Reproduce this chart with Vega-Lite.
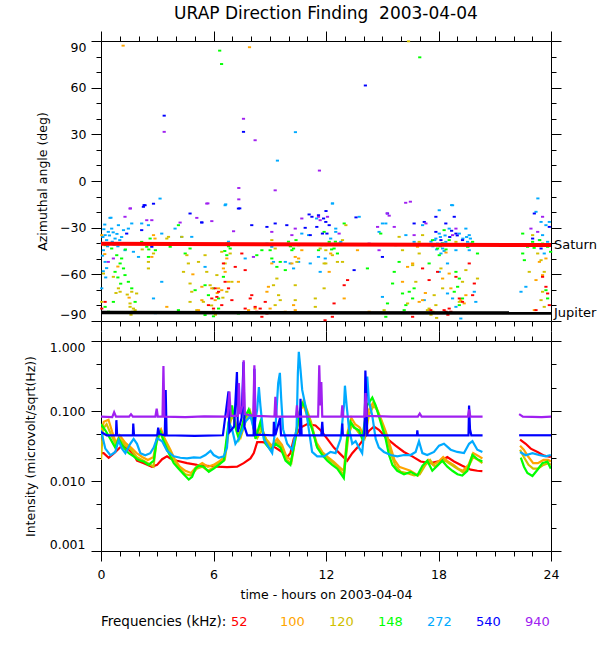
{
  "$schema": "https://vega.github.io/schema/vega-lite/v6.json",
  "background": "white",
  "padding": {"left": 23, "top": 4, "right": 0, "bottom": 5},
  "config": {
    "font": "DejaVu Sans",
    "view": {"stroke": "black", "strokeWidth": 1},
    "axis": {"grid": false, "domain": false, "tickColor": "black", "tickWidth": 1, "labelColor": "black", "titleColor": "black", "labelFontSize": 12.5, "titleFontSize": 12.5, "titleFontWeight": "normal", "labelFont": "DejaVu Sans", "titleFont": "DejaVu Sans"},
    "title": {"font": "DejaVu Sans", "fontSize": 17, "fontWeight": "normal", "color": "black"}
  },
  "datasets": {
    "sat": [{"t": 0, "a": -40.4}, {"t": 24, "a": -41.2}],
    "jup": [{"t": 0, "a": -84.5}, {"t": 24, "a": -84.9}],
    "lab": [{"t": 24, "a": -41.2, "p": "Saturn"}, {"t": 24, "a": -84.9, "p": "Jupiter"}],
    "az": [
      {"f":"272","t":10.37,"a":31.4},{"f":"272","t":9.41,"a":13.1},{"f":"272","t":6.65,"a":-15},{"f":"272","t":23.3,"a":-11.2},{"f":"272","t":18.7,"a":-15.5},{"f":"272","t":0.53,"a":-23.6},{"f":"272","t":12.35,"a":-14.4},
      {"f":"272","t":0.22,"a":-34.8},{"f":"272","t":0.39,"a":-32.7},{"f":"272","t":0.57,"a":-30.6},{"f":"272","t":0.3,"a":-38},{"f":"272","t":0.75,"a":-37},{"f":"272","t":0.93,"a":-28.4},{"f":"272","t":1.2,"a":-31.6},{"f":"272","t":1.46,"a":-30.6},{"f":"272","t":1.64,"a":-27.3},{"f":"272","t":0.48,"a":-23.7},{"f":"272","t":2.17,"a":-27.3},{"f":"272","t":2.53,"a":-28.4},{"f":"272","t":0.13,"a":-44.5},{"f":"272","t":0.22,"a":-52},{"f":"272","t":0.3,"a":-56},{"f":"272","t":0.04,"a":-69},{"f":"272","t":1.28,"a":-44.5},{"f":"272","t":1.73,"a":-45.5},{"f":"272","t":2,"a":-48.8},{"f":"272","t":3.24,"a":-64.8},{"f":"272","t":2.8,"a":-75.5},{"f":"272","t":2.9,"a":-85},{"f":"272","t":3.15,"a":-11.3},{"f":"272","t":3.24,"a":-33.8},{"f":"272","t":3.95,"a":-30.6},{"f":"272","t":4.3,"a":-35.9},{"f":"272","t":4.84,"a":-35.9},{"f":"272","t":5.55,"a":-55.2},{"f":"272","t":6.62,"a":-15.6},{"f":"272","t":6.8,"a":-39},{"f":"272","t":7.69,"a":-49.8},{"f":"272","t":8.85,"a":-40.2},{"f":"272","t":9.11,"a":-42.3},{"f":"272","t":9.2,"a":-52},{"f":"272","t":9.83,"a":-52},{"f":"272","t":10.09,"a":-53},{"f":"272","t":10.27,"a":-56.2},{"f":"272","t":10.54,"a":-52},{"f":"272","t":10.71,"a":-33.8},{"f":"272","t":11.07,"a":-34.8},{"f":"272","t":11.16,"a":-53},{"f":"272","t":11.6,"a":-48.8},{"f":"272","t":11.96,"a":-49.8},{"f":"272","t":11.5,"a":-24.1},{"f":"272","t":11.69,"a":-58.4},
      {"f":"272","t":0.05,"a":-40},{"f":"272","t":0.1,"a":-36},{"f":"272","t":0.15,"a":-31},{"f":"272","t":0.35,"a":-42},{"f":"272","t":0.45,"a":-35},{"f":"272","t":0.6,"a":-39},{"f":"272","t":0.65,"a":-33},{"f":"272","t":0.7,"a":-41},{"f":"272","t":0.85,"a":-34},{"f":"272","t":1.0,"a":-38},{"f":"272","t":0.2,"a":-28},{"f":"272","t":0.08,"a":-48},{"f":"272","t":0.12,"a":-58},{"f":"272","t":0.25,"a":-62},{"f":"272","t":1.1,"a":-36},{"f":"272","t":0.9,"a":-42},
      {"f":"272","t":12.34,"a":-14.5},{"f":"272","t":12.52,"a":-30.6},{"f":"272","t":12.25,"a":-37},{"f":"272","t":12.79,"a":-39.1},{"f":"272","t":12.52,"a":-32.7},{"f":"272","t":15.01,"a":-27.3},{"f":"272","t":14.83,"a":-32.7},{"f":"272","t":16.26,"a":-34.8},{"f":"272","t":16.7,"a":-39.1},{"f":"272","t":17.15,"a":-28.4},{"f":"272","t":17.5,"a":-41.3},{"f":"272","t":17.86,"a":-37},{"f":"272","t":18.04,"a":-33.8},{"f":"272","t":18.04,"a":-18.8},{"f":"272","t":18.22,"a":-43.4},{"f":"272","t":18.39,"a":-39.1},{"f":"272","t":18.57,"a":-30.6},{"f":"272","t":18.75,"a":-15.6},{"f":"272","t":18.93,"a":-44.5},{"f":"272","t":19.11,"a":-33.8},{"f":"272","t":19.46,"a":-30.6},{"f":"272","t":19.64,"a":-34.8},{"f":"272","t":19.55,"a":-39.1},{"f":"272","t":19.73,"a":-40.2},{"f":"272","t":18.48,"a":-72.3},{"f":"272","t":18.75,"a":-75.5},{"f":"272","t":19.99,"a":-77.7},{"f":"272","t":19.91,"a":-71.2},{"f":"272","t":18.93,"a":-80.9},{"f":"272","t":19.19,"a":-88.4},{"f":"272","t":22.4,"a":-71.2},{"f":"272","t":22.66,"a":-68},{"f":"272","t":23.2,"a":-19.8},{"f":"272","t":23.47,"a":-26.3},{"f":"272","t":23.73,"a":-28.4},{"f":"272","t":23.82,"a":-39.1},{"f":"272","t":23.91,"a":-26.3},{"f":"272","t":23.55,"a":-34.8},{"f":"272","t":23.38,"a":-38},{"f":"272","t":23.64,"a":-46.6},{"f":"272","t":15.19,"a":-27.3},{"f":"272","t":13.77,"a":-23},{"f":"272","t":18.48,"a":-53},{"f":"272","t":18.04,"a":-58.4},{"f":"272","t":17.24,"a":-76.6},{"f":"272","t":15.01,"a":-74.5},{"f":"272","t":17.95,"a":-40.2},{"f":"272","t":18.13,"a":-46.6},{"f":"272","t":19.64,"a":-44.5},
      {"f":"272","t":17.7,"a":-42},{"f":"272","t":17.8,"a":-38},{"f":"272","t":17.9,"a":-44},{"f":"272","t":18.0,"a":-41},{"f":"272","t":18.1,"a":-36},{"f":"272","t":18.2,"a":-40},{"f":"272","t":18.3,"a":-45},{"f":"272","t":18.35,"a":-35},{"f":"272","t":17.6,"a":-39},{"f":"272","t":19.2,"a":-41},{"f":"272","t":19.3,"a":-37},{"f":"272","t":19.5,"a":-36},{"f":"272","t":19.6,"a":-42},{"f":"272","t":19.7,"a":-37},
      {"f":"148","t":6.33,"a":83.8},{"f":"148","t":6.43,"a":75.2},{"f":"148","t":17.0,"a":79.5},
      {"f":"148","t":0.22,"a":-41.3},{"f":"148","t":0.57,"a":-43.4},{"f":"148","t":0.84,"a":-47.7},{"f":"148","t":1.1,"a":-49.8},{"f":"148","t":1.02,"a":-53},{"f":"148","t":1.2,"a":-56.2},{"f":"148","t":0.75,"a":-58.4},{"f":"148","t":1.28,"a":-60.5},{"f":"148","t":1.46,"a":-64.8},{"f":"148","t":1.64,"a":-69},{"f":"148","t":0.66,"a":-77.7},{"f":"148","t":0.22,"a":-80.9},{"f":"148","t":1.82,"a":-77.7},{"f":"148","t":2.17,"a":-39.1},{"f":"148","t":2.44,"a":-42.3},{"f":"148","t":2.62,"a":-37},{"f":"148","t":2.9,"a":-44.5},{"f":"148","t":2.53,"a":-48.8},{"f":"148","t":4.13,"a":-28.4},{"f":"148","t":3.69,"a":-42.3},{"f":"148","t":4.49,"a":-46.6},{"f":"148","t":4.75,"a":-43.4},{"f":"148","t":5.02,"a":-70.2},{"f":"148","t":5.55,"a":-67},{"f":"148","t":5.73,"a":-73.4},{"f":"148","t":6,"a":-69},{"f":"148","t":6.27,"a":-82},{"f":"148","t":5.55,"a":-86.2},{"f":"148","t":6.53,"a":-61.6},{"f":"148","t":6.71,"a":-40.2},{"f":"148","t":6.89,"a":-43.4},{"f":"148","t":6.71,"a":-47.7},{"f":"148","t":7.33,"a":-85.2},{"f":"148","t":8.31,"a":-47.7},{"f":"148","t":8.58,"a":-44.5},{"f":"148","t":9.02,"a":-44.5},{"f":"148","t":9.11,"a":-49.8},{"f":"148","t":9.38,"a":-55.2},{"f":"148","t":9.56,"a":-52},{"f":"148","t":10,"a":-39},{"f":"148","t":10.18,"a":-44.5},{"f":"148","t":9.83,"a":-57.3},{"f":"148","t":10.54,"a":-41.3},{"f":"148","t":10.27,"a":-43.4},{"f":"148","t":11.6,"a":-44.5},{"f":"148","t":11.78,"a":-41.3},{"f":"148","t":4.13,"a":-83},{"f":"148","t":6.27,"a":-75.5},{"f":"148","t":6,"a":-87},
      {"f":"148","t":0.9,"a":-62},{"f":"148","t":1.05,"a":-66},{"f":"148","t":0.4,"a":-84},{"f":"148","t":1.3,"a":-44},{"f":"148","t":2.7,"a":-40},{"f":"148","t":2.55,"a":-44},{"f":"148","t":6.8,"a":-42},{"f":"148","t":6.6,"a":-45},{"f":"148","t":10.1,"a":-42},{"f":"148","t":10.4,"a":-38},
      {"f":"148","t":11.99,"a":-41.3},{"f":"148","t":12.17,"a":-39.1},{"f":"148","t":12.43,"a":-43.4},{"f":"148","t":12.7,"a":-40.2},{"f":"148","t":12.97,"a":-27.3},{"f":"148","t":12.61,"a":-46.6},{"f":"148","t":11.9,"a":-32.7},{"f":"148","t":14.92,"a":-33.8},{"f":"148","t":15.9,"a":-52},{"f":"148","t":15.64,"a":-58.4},{"f":"148","t":15.55,"a":-65.9},{"f":"148","t":16.08,"a":-72.3},{"f":"148","t":16.44,"a":-71.2},{"f":"148","t":16.62,"a":-75.5},{"f":"148","t":16.26,"a":-79.8},{"f":"148","t":16.17,"a":-83},{"f":"148","t":16.7,"a":-69},{"f":"148","t":15.28,"a":-78.7},{"f":"148","t":15.19,"a":-87.3},{"f":"148","t":17.68,"a":-38},{"f":"148","t":17.95,"a":-43.4},{"f":"148","t":18.22,"a":-40.2},{"f":"148","t":18.04,"a":-47.7},{"f":"148","t":18.57,"a":-38},{"f":"148","t":18.93,"a":-58.4},{"f":"148","t":19.11,"a":-62.7},{"f":"148","t":19.02,"a":-68},{"f":"148","t":18.84,"a":-71.2},{"f":"148","t":19.28,"a":-75.5},{"f":"148","t":19.11,"a":-79.8},{"f":"148","t":19.55,"a":-42.3},{"f":"148","t":19.82,"a":-39.1},{"f":"148","t":20.08,"a":-46.6},{"f":"148","t":17.5,"a":-53},{"f":"148","t":22.49,"a":-33.8},{"f":"148","t":22.75,"a":-42.3},{"f":"148","t":23.02,"a":-39.1},{"f":"148","t":23.29,"a":-41.3},{"f":"148","t":23.55,"a":-40.2},{"f":"148","t":23.82,"a":-42.3},{"f":"148","t":23.98,"a":-45.5},{"f":"148","t":23.73,"a":-70.2},{"f":"148","t":23.82,"a":-75.5},{"f":"148","t":22.49,"a":-46.6},{"f":"148","t":22.58,"a":-50.9},{"f":"148","t":15.72,"a":-41.3},{"f":"148","t":18.3,"a":-31.6},{"f":"148","t":14.21,"a":-56.2},
      {"f":"148","t":18.1,"a":-42},{"f":"148","t":18.4,"a":-44},{"f":"148","t":12.3,"a":-44},{"f":"148","t":12.5,"a":-39},{"f":"148","t":23.1,"a":-43},{"f":"148","t":23.4,"a":-38},
      {"f":"120","t":16.4,"a":89.8},
      {"f":"120","t":0.04,"a":-77.7},{"f":"120","t":0.13,"a":-59.5},{"f":"120","t":0.66,"a":-61.6},{"f":"120","t":0.93,"a":-69},{"f":"120","t":1.02,"a":-71.2},{"f":"120","t":1.64,"a":-71.2},{"f":"120","t":1.9,"a":-72.3},{"f":"120","t":1.55,"a":-78.7},{"f":"120","t":1.73,"a":-82},{"f":"120","t":1.55,"a":-80.9},{"f":"120","t":1.82,"a":-83},{"f":"120","t":2.71,"a":-41.3},{"f":"120","t":2.53,"a":-52},{"f":"120","t":2.53,"a":-56.2},{"f":"120","t":2.8,"a":-46.6},{"f":"120","t":3.51,"a":-37},{"f":"120","t":4.31,"a":-35.9},{"f":"120","t":4.58,"a":-47.7},{"f":"120","t":4.66,"a":-53},{"f":"120","t":4.75,"a":-65.9},{"f":"120","t":4.84,"a":-71.2},{"f":"120","t":4.75,"a":-77.7},{"f":"120","t":5.2,"a":-52},{"f":"120","t":5.55,"a":-47.7},{"f":"120","t":5.64,"a":-58.4},{"f":"120","t":5.82,"a":-67},{"f":"120","t":5.46,"a":-77.7},{"f":"120","t":6,"a":-84},{"f":"120","t":6.18,"a":-60.5},{"f":"120","t":6.44,"a":-45.5},{"f":"120","t":6.62,"a":-53},{"f":"120","t":6.89,"a":-46.6},{"f":"120","t":6.98,"a":-64.8},{"f":"120","t":6.71,"a":-71.2},{"f":"120","t":5.11,"a":-83},{"f":"120","t":9.11,"a":-38},{"f":"120","t":9.29,"a":-43.4},{"f":"120","t":9.38,"a":-62.7},{"f":"120","t":9.2,"a":-67},{"f":"120","t":9.47,"a":-73.4},{"f":"120","t":9.56,"a":-76.6},{"f":"120","t":9.29,"a":-79.8},{"f":"120","t":10.36,"a":-67},{"f":"120","t":10.45,"a":-52},{"f":"120","t":10.36,"a":-76.6},{"f":"120","t":11.43,"a":-75.5},{"f":"120","t":11.43,"a":-80.9},{"f":"120","t":11.69,"a":-43.4},{"f":"120","t":4.4,"a":-58.4},{"f":"120","t":3.6,"a":-35.9},
      {"f":"120","t":1.7,"a":-84},{"f":"120","t":1.6,"a":-86},{"f":"120","t":0.8,"a":-72},{"f":"120","t":1.4,"a":-73},{"f":"120","t":5.9,"a":-80},{"f":"120","t":6.1,"a":-86},{"f":"120","t":6.5,"a":-75},{"f":"120","t":2.2,"a":-44},
      {"f":"120","t":11.99,"a":-44.5},{"f":"120","t":12.34,"a":-47.7},{"f":"120","t":12.88,"a":-52},{"f":"120","t":12.88,"a":-38},{"f":"120","t":13.06,"a":-28.4},{"f":"120","t":11.9,"a":-53},{"f":"120","t":16.08,"a":-44.5},{"f":"120","t":15.9,"a":-35.9},{"f":"120","t":16.97,"a":-39.1},{"f":"120","t":17.15,"a":-34.8},{"f":"120","t":16.97,"a":-46.6},{"f":"120","t":16.62,"a":-54.1},{"f":"120","t":16.79,"a":-64.8},{"f":"120","t":16.35,"a":-78.7},{"f":"120","t":17.5,"a":-82},{"f":"120","t":17.41,"a":-83},{"f":"120","t":17.77,"a":-73.4},{"f":"120","t":17.86,"a":-79.8},{"f":"120","t":18.13,"a":-56.2},{"f":"120","t":18.22,"a":-69},{"f":"120","t":19.11,"a":-77.7},{"f":"120","t":19.28,"a":-64.8},{"f":"120","t":19.46,"a":-57.3},{"f":"120","t":20.08,"a":-62.7},{"f":"120","t":18.93,"a":-39.1},{"f":"120","t":23.02,"a":-34.8},{"f":"120","t":23.29,"a":-46.6},{"f":"120","t":23.47,"a":-50.9},{"f":"120","t":23.64,"a":-58.4},{"f":"120","t":23.55,"a":-71.2},{"f":"120","t":23.47,"a":-76.6},{"f":"120","t":23.64,"a":-80.9},{"f":"120","t":22.84,"a":-58.4},{"f":"120","t":15.1,"a":-83},{"f":"120","t":11.99,"a":-53},{"f":"120","t":12.61,"a":-52},{"f":"120","t":11.9,"a":-69},
      {"f":"120","t":17.6,"a":-86},{"f":"120","t":17.7,"a":-84},{"f":"120","t":17.9,"a":-88},{"f":"120","t":18.0,"a":-85},
      {"f":"100","t":1.18,"a":87},{"f":"100","t":7.92,"a":86},
      {"f":"100","t":0.04,"a":-34.8},{"f":"100","t":2.8,"a":-34.8},{"f":"100","t":2.88,"a":-37},{"f":"100","t":2.71,"a":-48.8},{"f":"100","t":3.51,"a":-80.9},{"f":"100","t":5.38,"a":-68},{"f":"100","t":5.91,"a":-69},{"f":"100","t":6.27,"a":-69},{"f":"100","t":6.44,"a":-70.2},{"f":"100","t":6.62,"a":-58.4},{"f":"100","t":6.53,"a":-56.2},{"f":"100","t":6.09,"a":-76.6},{"f":"100","t":5.2,"a":-83},{"f":"100","t":5.38,"a":-76.6},{"f":"100","t":6.8,"a":-64.8},{"f":"100","t":7.33,"a":-64.8},{"f":"100","t":8.85,"a":-71.2},{"f":"100","t":8.93,"a":-68},{"f":"100","t":9.02,"a":-82},{"f":"100","t":9.11,"a":-53},{"f":"100","t":10.18,"a":-53},{"f":"100","t":10.27,"a":-79.8},{"f":"100","t":10.36,"a":-83},{"f":"100","t":9.83,"a":-84},{"f":"100","t":7.87,"a":-83},{"f":"100","t":8.22,"a":-82},{"f":"100","t":6.71,"a":-49.8},{"f":"100","t":10.54,"a":-49.8},{"f":"100","t":10.36,"a":-48.8},{"f":"100","t":10.71,"a":-44.5},
      {"f":"100","t":12.25,"a":-46.6},{"f":"100","t":13.68,"a":-44.5},{"f":"100","t":12.17,"a":-58.4},{"f":"100","t":12.97,"a":-75.5},{"f":"100","t":16.62,"a":-53},{"f":"100","t":16.88,"a":-42.3},{"f":"100","t":16.97,"a":-77.7},{"f":"100","t":17.15,"a":-76.6},{"f":"100","t":18.22,"a":-62.7},{"f":"100","t":18.57,"a":-59.5},{"f":"100","t":18.66,"a":-69},{"f":"100","t":19.19,"a":-76.6},{"f":"100","t":19.37,"a":-78.7},{"f":"100","t":19.46,"a":-73.4},{"f":"100","t":23.2,"a":-63.7},{"f":"100","t":23.38,"a":-52},{"f":"100","t":23.55,"a":-60.5},{"f":"100","t":23.73,"a":-49.8},{"f":"100","t":23.11,"a":-83},{"f":"100","t":14.3,"a":-84},{"f":"100","t":16.08,"a":-64.8},{"f":"100","t":16.35,"a":-55.2},
      {"f":"100","t":0.2,"a":-47},{"f":"100","t":0.9,"a":-55},{"f":"100","t":1.5,"a":-75},{"f":"100","t":4.9,"a":-60},{"f":"100","t":6.2,"a":-72},{"f":"100","t":18.4,"a":-46},{"f":"100","t":17.3,"a":-72},
      {"f":"52","t":0.22,"a":-77.7},{"f":"52","t":0.04,"a":-82},{"f":"52","t":5.91,"a":-75.5},{"f":"52","t":6.09,"a":-69},{"f":"52","t":5.73,"a":-79.8},{"f":"52","t":6,"a":-82},{"f":"52","t":6.18,"a":-74.5},{"f":"52","t":6.53,"a":-53},{"f":"52","t":6.62,"a":-64.8},{"f":"52","t":6.8,"a":-69},{"f":"52","t":6.98,"a":-76.6},{"f":"52","t":7.51,"a":-46.6},{"f":"52","t":7.69,"a":-57.3},{"f":"52","t":7.16,"a":-55.2},{"f":"52","t":7.96,"a":-75.5},{"f":"52","t":8.22,"a":-80.9},{"f":"52","t":8.31,"a":-84},{"f":"52","t":8.49,"a":-82},{"f":"52","t":8.58,"a":-87.3},{"f":"52","t":8.76,"a":-77.7},{"f":"52","t":8.85,"a":-85.2},{"f":"52","t":8.04,"a":-73.4},{"f":"52","t":6.27,"a":-71.2},{"f":"52","t":6.44,"a":-79.8},{"f":"52","t":7.69,"a":-82},
      {"f":"52","t":12.43,"a":-78.7},{"f":"52","t":12.97,"a":-67},{"f":"52","t":13.15,"a":-63.7},{"f":"52","t":17.15,"a":-56.2},{"f":"52","t":17.5,"a":-63.7},{"f":"52","t":17.59,"a":-83},{"f":"52","t":17.95,"a":-58.4},{"f":"52","t":18.3,"a":-83},{"f":"52","t":18.57,"a":-82},{"f":"52","t":18.66,"a":-84},{"f":"52","t":18.93,"a":-61.6},{"f":"52","t":19.11,"a":-75.5},{"f":"52","t":19.28,"a":-77.7},{"f":"52","t":19.64,"a":-53},{"f":"52","t":19.91,"a":-65.9},{"f":"52","t":19.82,"a":-73.4},{"f":"52","t":23.55,"a":-61.6},{"f":"52","t":23.73,"a":-68},{"f":"52","t":23.82,"a":-72.3},{"f":"52","t":23.91,"a":-79.8},{"f":"52","t":23.2,"a":-83},{"f":"52","t":12.34,"a":-87.3},{"f":"52","t":16.62,"a":-87.3},
      {"f":"52","t":18.4,"a":-84},{"f":"52","t":18.5,"a":-86},{"f":"52","t":11.95,"a":-89.5},
      {"f":"540","t":14.1,"a":61.4},{"f":"540","t":3.37,"a":42},{"f":"540","t":7.6,"a":31.6},{"f":"540","t":7.4,"a":-17.6},{"f":"540","t":2.3,"a":-15.5},{"f":"540","t":2.8,"a":-14.6},{"f":"540","t":5.37,"a":-26.6},{"f":"540","t":12.0,"a":-19.3},{"f":"540","t":11.1,"a":-21.5},{"f":"540","t":11.6,"a":-22},{"f":"540","t":13.6,"a":-23.4},
      {"f":"540","t":2.35,"a":-15.6},{"f":"540","t":2.26,"a":-16.6},{"f":"540","t":1.37,"a":-33.8},{"f":"540","t":2.44,"a":-40.2},{"f":"540","t":2.71,"a":-42.3},{"f":"540","t":5.38,"a":-26.7},{"f":"540","t":7.33,"a":-17.7},{"f":"540","t":8.04,"a":-28.4},{"f":"540","t":8.85,"a":-29.5},{"f":"540","t":9.29,"a":-27.3},{"f":"540","t":9.91,"a":-28.4},{"f":"540","t":10.89,"a":-30.1},{"f":"540","t":11.16,"a":-34.8},{"f":"540","t":11.51,"a":-29.5},{"f":"540","t":11.87,"a":-24.1},{"f":"540","t":12.05,"a":-33.8},{"f":"540","t":11.25,"a":-23},{"f":"540","t":4.75,"a":-20.9},{"f":"540","t":2.17,"a":-31.6},
      {"f":"540","t":11.99,"a":-26.3},{"f":"540","t":11.81,"a":-33.8},{"f":"540","t":12.17,"a":-28.4},{"f":"540","t":13.5,"a":-57.3},{"f":"540","t":15.01,"a":-48.8},{"f":"540","t":15.28,"a":-20.9},{"f":"540","t":16.7,"a":-27.3},{"f":"540","t":17.24,"a":-26.3},{"f":"540","t":17.86,"a":-23},{"f":"540","t":17.86,"a":-32.7},{"f":"540","t":18.13,"a":-38},{"f":"540","t":18.39,"a":-27.3},{"f":"540","t":18.84,"a":-23},{"f":"540","t":18.93,"a":-33.8},{"f":"540","t":19.28,"a":-38},{"f":"540","t":23.11,"a":-20.9},{"f":"540","t":23.02,"a":-37},{"f":"540","t":23.47,"a":-43.4},{"f":"540","t":23.91,"a":-29.5},
      {"f":"540","t":18.6,"a":-36},{"f":"540","t":18.7,"a":-32},{"f":"540","t":19.0,"a":-35},
      {"f":"940","t":3.37,"a":31.6},{"f":"940","t":7.6,"a":40},{"f":"940","t":8.22,"a":26.2},{"f":"940","t":11.65,"a":6.7},{"f":"940","t":7.35,"a":-4.5},{"f":"940","t":7.35,"a":-11.8},{"f":"940","t":9.29,"a":-6},{"f":"940","t":5.7,"a":-14.4},{"f":"940","t":16.5,"a":-13.3},{"f":"940","t":16.25,"a":-14},{"f":"940","t":1.57,"a":-17.6},{"f":"940","t":15.26,"a":-20.8},{"f":"940","t":15.37,"a":-22.3},
      {"f":"940","t":1.55,"a":-17.7},{"f":"940","t":1.28,"a":-23},{"f":"940","t":2.44,"a":-25.2},{"f":"940","t":2.71,"a":-25.2},{"f":"940","t":5.11,"a":-23.7},{"f":"940","t":4.22,"a":-26.7},{"f":"940","t":5.64,"a":-14.5},{"f":"940","t":5.91,"a":-25.8},{"f":"940","t":7.07,"a":-32.3},{"f":"940","t":8.13,"a":-48.8},{"f":"940","t":9.11,"a":-32.7},{"f":"940","t":10.36,"a":-30.6},{"f":"940","t":10.71,"a":-24.1},{"f":"940","t":11.6,"a":-23},{"f":"940","t":11.69,"a":-25.2},{"f":"940","t":10.18,"a":-34.8},{"f":"940","t":0.66,"a":-49.8},{"f":"940","t":0.39,"a":-52},
      {"f":"940","t":12.08,"a":-23},{"f":"940","t":12.7,"a":-33.8},{"f":"940","t":14.83,"a":-44.5},{"f":"940","t":14.75,"a":-29.5},{"f":"940","t":15.64,"a":-29.5},{"f":"940","t":16.7,"a":-34.8},{"f":"940","t":17.33,"a":-27.3},{"f":"940","t":18.75,"a":-34.8},{"f":"940","t":18.93,"a":-30.6},{"f":"940","t":14.3,"a":-40.2},{"f":"940","t":23.29,"a":-32.7},{"f":"940","t":23.55,"a":-23},{"f":"940","t":22.93,"a":-30.6}
    ],
    "inten": [
      {"f":"52","t":0,"v":0.025},{"f":"52","t":0.14,"v":0.025},{"f":"52","t":0.41,"v":0.0215},{"f":"52","t":0.7,"v":0.025},{"f":"52","t":1.0,"v":0.03},{"f":"52","t":1.2,"v":0.032},{"f":"52","t":1.5,"v":0.028},{"f":"52","t":1.74,"v":0.024},{"f":"52","t":1.92,"v":0.0195},{"f":"52","t":2.28,"v":0.018},{"f":"52","t":2.72,"v":0.016},{"f":"52","t":2.99,"v":0.017},{"f":"52","t":3.26,"v":0.0205},{"f":"52","t":3.52,"v":0.0225},{"f":"52","t":3.7,"v":0.021},{"f":"52","t":4.06,"v":0.0195},{"f":"52","t":4.59,"v":0.018},{"f":"52","t":5.12,"v":0.017},{"f":"52","t":5.66,"v":0.0165},{"f":"52","t":6.19,"v":0.016},{"f":"52","t":6.72,"v":0.0158},{"f":"52","t":7.26,"v":0.016},{"f":"52","t":7.61,"v":0.018},{"f":"52","t":7.97,"v":0.021},{"f":"52","t":8.15,"v":0.025},{"f":"52","t":8.33,"v":0.036},{"f":"52","t":8.6,"v":0.036},{"f":"52","t":8.86,"v":0.035},{"f":"52","t":9.3,"v":0.03},{"f":"52","t":9.66,"v":0.026},{"f":"52","t":9.93,"v":0.022},{"f":"52","t":10.1,"v":0.025},{"f":"52","t":10.28,"v":0.04},{"f":"52","t":10.64,"v":0.058},{"f":"52","t":11.0,"v":0.065},{"f":"52","t":11.44,"v":0.062},{"f":"52","t":11.71,"v":0.053},{"f":"52","t":12.07,"v":0.04},{"f":"52","t":12.42,"v":0.03},{"f":"52","t":12.78,"v":0.024},{"f":"52","t":13.13,"v":0.0195},{"f":"52","t":13.4,"v":0.025},{"f":"52","t":13.67,"v":0.03},{"f":"52","t":14.02,"v":0.04},{"f":"52","t":14.29,"v":0.052},{"f":"52","t":14.56,"v":0.06},{"f":"52","t":14.82,"v":0.054},{"f":"52","t":15.27,"v":0.04},{"f":"52","t":15.71,"v":0.032},{"f":"52","t":16.16,"v":0.026},{"f":"52","t":16.6,"v":0.0225},{"f":"52","t":17.05,"v":0.019},{"f":"52","t":17.58,"v":0.018},{"f":"52","t":18.12,"v":0.0195},{"f":"52","t":18.47,"v":0.022},{"f":"52","t":18.83,"v":0.019},{"f":"52","t":19.27,"v":0.0165},{"f":"52","t":19.72,"v":0.0145},{"f":"52","t":20.07,"v":0.014},{"f":"52","t":20.34,"v":0.0138},
      {"f":"52","t":22.35,"v":0.039,"s":2},{"f":"52","t":22.65,"v":0.034,"s":2},{"f":"52","t":22.92,"v":0.029,"s":2},{"f":"52","t":23.28,"v":0.026,"s":2},{"f":"52","t":23.63,"v":0.023,"s":2},{"f":"52","t":23.99,"v":0.022,"s":2},
      {"f":"100","t":0,"v":0.05},{"f":"100","t":0.15,"v":0.07},{"f":"100","t":0.4,"v":0.075},{"f":"100","t":0.6,"v":0.05},{"f":"100","t":0.8,"v":0.035},{"f":"100","t":1.0,"v":0.045},{"f":"100","t":1.3,"v":0.035},{"f":"100","t":1.6,"v":0.03},{"f":"100","t":1.9,"v":0.025},{"f":"100","t":2.2,"v":0.022},{"f":"100","t":2.5,"v":0.02},{"f":"100","t":2.8,"v":0.022},{"f":"100","t":3.0,"v":0.045},{"f":"100","t":3.2,"v":0.055},{"f":"100","t":3.4,"v":0.04},{"f":"100","t":3.7,"v":0.028},{"f":"100","t":3.95,"v":0.02},{"f":"100","t":4.2,"v":0.016},{"f":"100","t":4.5,"v":0.014},{"f":"100","t":4.8,"v":0.013},{"f":"100","t":5.1,"v":0.016},{"f":"100","t":5.4,"v":0.018},{"f":"100","t":5.7,"v":0.016},{"f":"100","t":6.0,"v":0.017},{"f":"100","t":6.3,"v":0.019},{"f":"100","t":6.6,"v":0.022},{"f":"100","t":6.85,"v":0.075},{"f":"100","t":7.0,"v":0.1},{"f":"100","t":7.2,"v":0.065},{"f":"100","t":7.4,"v":0.045},{"f":"100","t":7.65,"v":0.08},{"f":"100","t":7.9,"v":0.09},{"f":"100","t":8.1,"v":0.07},{"f":"100","t":8.3,"v":0.045},{"f":"100","t":8.5,"v":0.06},{"f":"100","t":8.8,"v":0.04},{"f":"100","t":9.1,"v":0.032},{"f":"100","t":9.4,"v":0.04},{"f":"100","t":9.65,"v":0.033},{"f":"100","t":9.9,"v":0.022},{"f":"100","t":10.15,"v":0.02},{"f":"100","t":10.4,"v":0.05},{"f":"100","t":10.6,"v":0.1},{"f":"100","t":10.8,"v":0.12},{"f":"100","t":11.0,"v":0.085},{"f":"100","t":11.2,"v":0.065},{"f":"100","t":11.5,"v":0.035},{"f":"100","t":11.8,"v":0.026},{"f":"100","t":12.1,"v":0.022},{"f":"100","t":12.4,"v":0.019},{"f":"100","t":12.7,"v":0.016},{"f":"100","t":12.95,"v":0.014},{"f":"100","t":13.15,"v":0.05},{"f":"100","t":13.35,"v":0.08},{"f":"100","t":13.55,"v":0.065},{"f":"100","t":13.8,"v":0.058},{"f":"100","t":14.0,"v":0.045},{"f":"100","t":14.25,"v":0.1},{"f":"100","t":14.5,"v":0.13},{"f":"100","t":14.7,"v":0.11},{"f":"100","t":14.95,"v":0.075},{"f":"100","t":15.2,"v":0.05},{"f":"100","t":15.45,"v":0.03},{"f":"100","t":15.65,"v":0.02},{"f":"100","t":15.9,"v":0.016},{"f":"100","t":16.2,"v":0.015},{"f":"100","t":16.5,"v":0.014},{"f":"100","t":16.9,"v":0.012},{"f":"100","t":17.2,"v":0.016},{"f":"100","t":17.45,"v":0.02},{"f":"100","t":17.7,"v":0.017},{"f":"100","t":18.0,"v":0.019},{"f":"100","t":18.25,"v":0.022},{"f":"100","t":18.5,"v":0.019},{"f":"100","t":18.8,"v":0.017},{"f":"100","t":19.05,"v":0.015},{"f":"100","t":19.3,"v":0.014},{"f":"100","t":19.6,"v":0.017},{"f":"100","t":19.85,"v":0.025},{"f":"100","t":20.1,"v":0.023},{"f":"100","t":20.34,"v":0.021},
      {"f":"100","t":22.35,"v":0.032,"s":2},{"f":"100","t":22.55,"v":0.028,"s":2},{"f":"100","t":22.8,"v":0.022,"s":2},{"f":"100","t":23.05,"v":0.018,"s":2},{"f":"100","t":23.3,"v":0.018,"s":2},{"f":"100","t":23.6,"v":0.02,"s":2},{"f":"100","t":23.85,"v":0.02,"s":2},{"f":"100","t":24,"v":0.019,"s":2},
      {"f":"120","t":0,"v":0.02},{"f":"120","t":0.1,"v":0.055},{"f":"120","t":0.3,"v":0.065},{"f":"120","t":0.55,"v":0.045},{"f":"120","t":0.8,"v":0.033},{"f":"120","t":1.0,"v":0.04},{"f":"120","t":1.3,"v":0.032},{"f":"120","t":1.6,"v":0.028},{"f":"120","t":1.9,"v":0.022},{"f":"120","t":2.2,"v":0.02},{"f":"120","t":2.5,"v":0.018},{"f":"120","t":2.8,"v":0.016},{"f":"120","t":2.95,"v":0.035},{"f":"120","t":3.2,"v":0.05},{"f":"120","t":3.4,"v":0.038},{"f":"120","t":3.7,"v":0.026},{"f":"120","t":3.95,"v":0.019},{"f":"120","t":4.2,"v":0.015},{"f":"120","t":4.5,"v":0.0125},{"f":"120","t":4.8,"v":0.012},{"f":"120","t":5.1,"v":0.015},{"f":"120","t":5.4,"v":0.016},{"f":"120","t":5.7,"v":0.014},{"f":"120","t":6.0,"v":0.0155},{"f":"120","t":6.3,"v":0.018},{"f":"120","t":6.6,"v":0.02},{"f":"120","t":6.85,"v":0.06},{"f":"120","t":7.0,"v":0.09},{"f":"120","t":7.2,"v":0.06},{"f":"120","t":7.45,"v":0.042},{"f":"120","t":7.7,"v":0.07},{"f":"120","t":7.95,"v":0.1},{"f":"120","t":8.15,"v":0.065},{"f":"120","t":8.35,"v":0.042},{"f":"120","t":8.6,"v":0.055},{"f":"120","t":8.85,"v":0.036},{"f":"120","t":9.1,"v":0.03},{"f":"120","t":9.4,"v":0.036},{"f":"120","t":9.65,"v":0.03},{"f":"120","t":9.9,"v":0.02},{"f":"120","t":10.15,"v":0.018},{"f":"120","t":10.4,"v":0.045},{"f":"120","t":10.6,"v":0.095},{"f":"120","t":10.8,"v":0.14},{"f":"120","t":11.0,"v":0.1},{"f":"120","t":11.2,"v":0.07},{"f":"120","t":11.5,"v":0.032},{"f":"120","t":11.8,"v":0.025},{"f":"120","t":12.1,"v":0.021},{"f":"120","t":12.4,"v":0.018},{"f":"120","t":12.7,"v":0.015},{"f":"120","t":12.95,"v":0.012},{"f":"120","t":13.2,"v":0.045},{"f":"120","t":13.4,"v":0.065},{"f":"120","t":13.6,"v":0.055},{"f":"120","t":13.85,"v":0.045},{"f":"120","t":14.05,"v":0.04},{"f":"120","t":14.3,"v":0.09},{"f":"120","t":14.55,"v":0.12},{"f":"120","t":14.75,"v":0.1},{"f":"120","t":15.0,"v":0.065},{"f":"120","t":15.25,"v":0.042},{"f":"120","t":15.45,"v":0.025},{"f":"120","t":15.7,"v":0.0165},{"f":"120","t":16.0,"v":0.0135},{"f":"120","t":16.3,"v":0.013},{"f":"120","t":16.7,"v":0.012},{"f":"120","t":17.0,"v":0.0125},{"f":"120","t":17.3,"v":0.017},{"f":"120","t":17.55,"v":0.02},{"f":"120","t":17.8,"v":0.016},{"f":"120","t":18.05,"v":0.018},{"f":"120","t":18.3,"v":0.02},{"f":"120","t":18.55,"v":0.018},{"f":"120","t":18.85,"v":0.016},{"f":"120","t":19.1,"v":0.0145},{"f":"120","t":19.35,"v":0.013},{"f":"120","t":19.6,"v":0.016},{"f":"120","t":19.85,"v":0.022},{"f":"120","t":20.1,"v":0.02},{"f":"120","t":20.34,"v":0.018},
      {"f":"120","t":22.35,"v":0.028,"s":2},{"f":"120","t":22.55,"v":0.022,"s":2},{"f":"120","t":22.8,"v":0.017,"s":2},{"f":"120","t":23.05,"v":0.015,"s":2},{"f":"120","t":23.3,"v":0.015,"s":2},{"f":"120","t":23.6,"v":0.017,"s":2},{"f":"120","t":23.85,"v":0.018,"s":2},{"f":"120","t":24,"v":0.017,"s":2},
      {"f":"148","t":0,"v":0.065},{"f":"148","t":0.23,"v":0.053},{"f":"148","t":0.5,"v":0.04},{"f":"148","t":0.76,"v":0.03},{"f":"148","t":0.94,"v":0.04},{"f":"148","t":1.21,"v":0.03},{"f":"148","t":1.48,"v":0.025},{"f":"148","t":1.74,"v":0.0225},{"f":"148","t":1.92,"v":0.0205},{"f":"148","t":2.1,"v":0.0195},{"f":"148","t":2.28,"v":0.019},{"f":"148","t":2.54,"v":0.017},{"f":"148","t":2.81,"v":0.0195},{"f":"148","t":2.99,"v":0.04},{"f":"148","t":3.17,"v":0.05},{"f":"148","t":3.34,"v":0.037},{"f":"148","t":3.61,"v":0.025},{"f":"148","t":3.88,"v":0.018},{"f":"148","t":4.14,"v":0.015},{"f":"148","t":4.41,"v":0.0125},{"f":"148","t":4.68,"v":0.0105},{"f":"148","t":4.86,"v":0.0115},{"f":"148","t":5.03,"v":0.015},{"f":"148","t":5.21,"v":0.0165},{"f":"148","t":5.48,"v":0.016},{"f":"148","t":5.75,"v":0.0135},{"f":"148","t":6.01,"v":0.015},{"f":"148","t":6.28,"v":0.017},{"f":"148","t":6.55,"v":0.0195},{"f":"148","t":6.81,"v":0.07},{"f":"148","t":6.99,"v":0.12},{"f":"148","t":7.17,"v":0.058},{"f":"148","t":7.35,"v":0.04},{"f":"148","t":7.61,"v":0.075},{"f":"148","t":7.88,"v":0.105},{"f":"148","t":8.06,"v":0.075},{"f":"148","t":8.24,"v":0.04},{"f":"148","t":8.5,"v":0.07},{"f":"148","t":8.77,"v":0.034},{"f":"148","t":9.04,"v":0.028},{"f":"148","t":9.3,"v":0.034},{"f":"148","t":9.57,"v":0.03},{"f":"148","t":9.84,"v":0.0195},{"f":"148","t":10.1,"v":0.017},{"f":"148","t":10.37,"v":0.04},{"f":"148","t":10.55,"v":0.088},{"f":"148","t":10.73,"v":0.13},{"f":"148","t":10.9,"v":0.112},{"f":"148","t":11.08,"v":0.075},{"f":"148","t":11.26,"v":0.055},{"f":"148","t":11.53,"v":0.03},{"f":"148","t":11.8,"v":0.0235},{"f":"148","t":12.07,"v":0.0195},{"f":"148","t":12.33,"v":0.017},{"f":"148","t":12.6,"v":0.015},{"f":"148","t":12.95,"v":0.011},{"f":"148","t":13.13,"v":0.04},{"f":"148","t":13.31,"v":0.07},{"f":"148","t":13.49,"v":0.058},{"f":"148","t":13.76,"v":0.053},{"f":"148","t":13.93,"v":0.04},{"f":"148","t":14.2,"v":0.12},{"f":"148","t":14.47,"v":0.155},{"f":"148","t":14.65,"v":0.12},{"f":"148","t":14.91,"v":0.07},{"f":"148","t":15.18,"v":0.04},{"f":"148","t":15.36,"v":0.0235},{"f":"148","t":15.54,"v":0.017},{"f":"148","t":15.8,"v":0.014},{"f":"148","t":16.16,"v":0.0125},{"f":"148","t":16.51,"v":0.0135},{"f":"148","t":16.87,"v":0.012},{"f":"148","t":17.14,"v":0.0165},{"f":"148","t":17.4,"v":0.0195},{"f":"148","t":17.67,"v":0.014},{"f":"148","t":17.94,"v":0.0165},{"f":"148","t":18.2,"v":0.0195},{"f":"148","t":18.47,"v":0.016},{"f":"148","t":18.74,"v":0.014},{"f":"148","t":19.01,"v":0.0125},{"f":"148","t":19.27,"v":0.012},{"f":"148","t":19.54,"v":0.014},{"f":"148","t":19.81,"v":0.0235},{"f":"148","t":20.07,"v":0.0205},{"f":"148","t":20.34,"v":0.019},
      {"f":"148","t":22.39,"v":0.0215,"s":2},{"f":"148","t":22.56,"v":0.016,"s":2},{"f":"148","t":22.74,"v":0.013,"s":2},{"f":"148","t":23.01,"v":0.0118,"s":2},{"f":"148","t":23.28,"v":0.0145,"s":2},{"f":"148","t":23.54,"v":0.018,"s":2},{"f":"148","t":23.81,"v":0.019,"s":2},{"f":"148","t":23.99,"v":0.015,"s":2},
      {"f":"272","t":0,"v":0.053},{"f":"272","t":0.23,"v":0.029},{"f":"272","t":0.5,"v":0.0233},{"f":"272","t":0.76,"v":0.026},{"f":"272","t":0.94,"v":0.038},{"f":"272","t":1.12,"v":0.029},{"f":"272","t":1.3,"v":0.025},{"f":"272","t":1.56,"v":0.034},{"f":"272","t":1.74,"v":0.04},{"f":"272","t":1.92,"v":0.034},{"f":"272","t":2.1,"v":0.025},{"f":"272","t":2.36,"v":0.0233},{"f":"272","t":2.63,"v":0.025},{"f":"272","t":2.81,"v":0.03},{"f":"272","t":2.99,"v":0.041},{"f":"272","t":3.26,"v":0.037},{"f":"272","t":3.52,"v":0.027},{"f":"272","t":3.88,"v":0.0225},{"f":"272","t":4.23,"v":0.0215},{"f":"272","t":4.59,"v":0.021},{"f":"272","t":4.95,"v":0.0218},{"f":"272","t":5.3,"v":0.0215},{"f":"272","t":5.57,"v":0.0235},{"f":"272","t":5.84,"v":0.027},{"f":"272","t":6.01,"v":0.0235},{"f":"272","t":6.28,"v":0.0215},{"f":"272","t":6.55,"v":0.0225},{"f":"272","t":6.72,"v":0.03},{"f":"272","t":6.81,"v":0.07},{"f":"272","t":6.99,"v":0.055},{"f":"272","t":7.17,"v":0.034},{"f":"272","t":7.35,"v":0.04},{"f":"272","t":7.7,"v":0.07},{"f":"272","t":7.97,"v":0.085},{"f":"272","t":8.15,"v":0.055},{"f":"272","t":8.33,"v":0.105},{"f":"272","t":8.42,"v":0.22},{"f":"272","t":8.5,"v":0.12},{"f":"272","t":8.68,"v":0.04},{"f":"272","t":8.95,"v":0.03},{"f":"272","t":9.13,"v":0.025},{"f":"272","t":9.3,"v":0.055},{"f":"272","t":9.45,"v":0.25},{"f":"272","t":9.54,"v":0.35},{"f":"272","t":9.61,"v":0.15},{"f":"272","t":9.71,"v":0.055},{"f":"272","t":9.93,"v":0.034},{"f":"272","t":10.19,"v":0.028},{"f":"272","t":10.43,"v":0.055},{"f":"272","t":10.5,"v":0.35},{"f":"272","t":10.55,"v":0.7},{"f":"272","t":10.64,"v":0.39},{"f":"272","t":10.73,"v":0.2},{"f":"272","t":10.9,"v":0.12},{"f":"272","t":11.08,"v":0.055},{"f":"272","t":11.26,"v":0.026},{"f":"272","t":11.53,"v":0.0225},{"f":"272","t":11.89,"v":0.0225},{"f":"272","t":12.24,"v":0.026},{"f":"272","t":12.51,"v":0.025},{"f":"272","t":12.78,"v":0.04},{"f":"272","t":12.96,"v":0.12},{"f":"272","t":13.01,"v":0.23},{"f":"272","t":13.1,"v":0.12},{"f":"272","t":13.22,"v":0.058},{"f":"272","t":13.4,"v":0.034},{"f":"272","t":13.58,"v":0.037},{"f":"272","t":13.76,"v":0.03},{"f":"272","t":13.93,"v":0.025},{"f":"272","t":14.08,"v":0.07},{"f":"272","t":14.2,"v":0.31},{"f":"272","t":14.29,"v":0.14},{"f":"272","t":14.47,"v":0.085},{"f":"272","t":14.65,"v":0.04},{"f":"272","t":14.82,"v":0.03},{"f":"272","t":15.09,"v":0.026},{"f":"272","t":15.45,"v":0.0235},{"f":"272","t":15.8,"v":0.0225},{"f":"272","t":16.16,"v":0.0235},{"f":"272","t":16.51,"v":0.0235},{"f":"272","t":16.78,"v":0.026},{"f":"272","t":16.96,"v":0.037},{"f":"272","t":17.14,"v":0.025},{"f":"272","t":17.4,"v":0.0235},{"f":"272","t":17.76,"v":0.026},{"f":"272","t":18.03,"v":0.032},{"f":"272","t":18.29,"v":0.034},{"f":"272","t":18.65,"v":0.028},{"f":"272","t":19.0,"v":0.026},{"f":"272","t":19.36,"v":0.025},{"f":"272","t":19.63,"v":0.034},{"f":"272","t":19.81,"v":0.037},{"f":"272","t":20.07,"v":0.028},{"f":"272","t":20.34,"v":0.026},
      {"f":"272","t":22.35,"v":0.026,"s":2},{"f":"272","t":22.65,"v":0.0233,"s":2},{"f":"272","t":23.01,"v":0.025,"s":2},{"f":"272","t":23.36,"v":0.0235,"s":2},{"f":"272","t":23.72,"v":0.0225,"s":2},{"f":"272","t":23.99,"v":0.0235,"s":2},
      {"f":"540","t":0,"v":0.05},{"f":"540","t":0.3,"v":0.045},{"f":"540","t":0.8,"v":0.045},{"f":"540","t":0.82,"v":0.074},{"f":"540","t":0.86,"v":0.045},{"f":"540","t":1.7,"v":0.045},{"f":"540","t":1.72,"v":0.066},{"f":"540","t":1.76,"v":0.045},{"f":"540","t":3.0,"v":0.045},{"f":"540","t":3.05,"v":0.058},{"f":"540","t":3.1,"v":0.047},{"f":"540","t":3.4,"v":0.045},{"f":"540","t":3.45,"v":0.2},{"f":"540","t":3.5,"v":0.045},{"f":"540","t":5,"v":0.044},{"f":"540","t":6.5,"v":0.045},{"f":"540","t":6.8,"v":0.19},{"f":"540","t":6.85,"v":0.05},{"f":"540","t":7.1,"v":0.06},{"f":"540","t":7.25,"v":0.36},{"f":"540","t":7.3,"v":0.05},{"f":"540","t":7.5,"v":0.08},{"f":"540","t":7.6,"v":0.5},{"f":"540","t":7.65,"v":0.06},{"f":"540","t":7.8,"v":0.045},{"f":"540","t":8.14,"v":0.045},{"f":"540","t":8.18,"v":0.4},{"f":"540","t":8.22,"v":0.046},{"f":"540","t":9.2,"v":0.045},{"f":"540","t":9.22,"v":0.07},{"f":"540","t":9.3,"v":0.045},{"f":"540","t":9.55,"v":0.08},{"f":"540","t":9.6,"v":0.045},{"f":"540","t":10.6,"v":0.045},{"f":"540","t":10.64,"v":0.15},{"f":"540","t":10.7,"v":0.045},{"f":"540","t":11.75,"v":0.045},{"f":"540","t":11.8,"v":0.07},{"f":"540","t":11.85,"v":0.045},{"f":"540","t":12.85,"v":0.045},{"f":"540","t":12.87,"v":0.066},{"f":"540","t":12.9,"v":0.045},{"f":"540","t":14.05,"v":0.045},{"f":"540","t":14.1,"v":0.38},{"f":"540","t":14.15,"v":0.16},{"f":"540","t":14.2,"v":0.045},{"f":"540","t":16.85,"v":0.045},{"f":"540","t":16.87,"v":0.053},{"f":"540","t":16.9,"v":0.045},{"f":"540","t":19.6,"v":0.045},{"f":"540","t":19.63,"v":0.12},{"f":"540","t":19.68,"v":0.055},{"f":"540","t":19.75,"v":0.045},{"f":"540","t":20.35,"v":0.045},
      {"f":"540","t":22.3,"v":0.045,"s":2},{"f":"540","t":24,"v":0.045,"s":2},
      {"f":"940","t":0,"v":0.083},{"f":"940","t":0.6,"v":0.082},{"f":"940","t":0.7,"v":0.096},{"f":"940","t":0.8,"v":0.083},{"f":"940","t":1.5,"v":0.083},{"f":"940","t":1.6,"v":0.09},{"f":"940","t":1.7,"v":0.083},{"f":"940","t":2.9,"v":0.083},{"f":"940","t":2.97,"v":0.108},{"f":"940","t":3.03,"v":0.083},{"f":"940","t":3.28,"v":0.083},{"f":"940","t":3.33,"v":0.44},{"f":"940","t":3.38,"v":0.083},{"f":"940","t":4.5,"v":0.082},{"f":"940","t":5.5,"v":0.084},{"f":"940","t":6.75,"v":0.083},{"f":"940","t":6.85,"v":0.19},{"f":"940","t":6.92,"v":0.085},{"f":"940","t":7.3,"v":0.085},{"f":"940","t":7.35,"v":0.25},{"f":"940","t":7.42,"v":0.09},{"f":"940","t":7.55,"v":0.12},{"f":"940","t":7.61,"v":0.53},{"f":"940","t":7.67,"v":0.09},{"f":"940","t":8.12,"v":0.085},{"f":"940","t":8.18,"v":0.45},{"f":"940","t":8.24,"v":0.085},{"f":"940","t":9.25,"v":0.083},{"f":"940","t":9.3,"v":0.16},{"f":"940","t":9.36,"v":0.083},{"f":"940","t":10.4,"v":0.083},{"f":"940","t":10.45,"v":0.12},{"f":"940","t":10.5,"v":0.084},{"f":"940","t":11.58,"v":0.083},{"f":"940","t":11.64,"v":0.45},{"f":"940","t":11.7,"v":0.12},{"f":"940","t":11.75,"v":0.26},{"f":"940","t":11.8,"v":0.083},{"f":"940","t":12.82,"v":0.083},{"f":"940","t":12.87,"v":0.12},{"f":"940","t":12.92,"v":0.083},{"f":"940","t":14.05,"v":0.083},{"f":"940","t":14.11,"v":0.18},{"f":"940","t":14.17,"v":0.085},{"f":"940","t":15.5,"v":0.083},{"f":"940","t":16.9,"v":0.083},{"f":"940","t":17.0,"v":0.092},{"f":"940","t":17.1,"v":0.083},{"f":"940","t":19.57,"v":0.083},{"f":"940","t":19.63,"v":0.105},{"f":"940","t":19.7,"v":0.083},{"f":"940","t":20.35,"v":0.083},
      {"f":"940","t":22.3,"v":0.09,"s":2},{"f":"940","t":22.5,"v":0.083,"s":2},{"f":"940","t":23.5,"v":0.082,"s":2},{"f":"940","t":24,"v":0.083,"s":2}
    ]
  },
  "spacing": 20,
  "bounds": "flush",
  "resolve": {"scale": {"color": "independent", "x": "independent", "y": "independent"}},
  "vconcat": [
    {
      "width": 450,
      "height": 280,
      "title": {"text": "URAP Direction Finding\u00a0 2003-04-04", "frame": "group", "offset": 8},
      "resolve": {"axis": {"x": "independent", "y": "independent"}},
      "layer": [
        {
          "data": {"name": "az"},
          "mark": {"type": "point", "shape": "M-1,-0.6H1V0.6H-1Z", "filled": true, "size": 10, "opacity": 1, "strokeWidth": 0},
          "encoding": {
            "x": {"field": "t", "type": "quantitative", "scale": {"domain": [0, 24], "nice": false, "zero": false},
              "axis": {"values": [0,1,2,3,4,5,6,7,8,9,10,11,12,13,14,15,16,17,18,19,20,21,22,23,24], "labels": false, "title": null,
                "tickSize": {"condition": {"test": "datum.value % 6 === 0", "value": 10}, "value": 5}}},
            "y": {"field": "a", "type": "quantitative", "scale": {"domain": [-90, 90], "nice": false, "zero": false},
              "axis": {"values": [-90,-80,-70,-60,-50,-40,-30,-20,-10,0,10,20,30,40,50,60,70,80,90], "title": "Azimuthal angle (deg)",
                "labelExpr": "datum.value % 30 === 0 ? datum.label : ''", "labelFlush": true, "labelPadding": 5, "titlePadding": 10,
                "tickSize": {"condition": {"test": "datum.value % 30 === 0", "value": 10}, "value": 5}}},
            "color": {"field": "f", "type": "nominal", "legend": null,
              "scale": {"domain": ["52","100","120","148","272","540","940"], "range": ["#ff0000","#ffa500","#d0c000","#00ff00","#00aaff","#0000ff","#a020f0"]}}
          }
        },
        {
          "data": {"name": "sat"},
          "mark": {"type": "line", "color": "#ff0000", "strokeWidth": 4},
          "encoding": {
            "x": {"field": "t", "type": "quantitative",
              "axis": {"orient": "top", "values": [0,1,2,3,4,5,6,7,8,9,10,11,12,13,14,15,16,17,18,19,20,21,22,23,24], "labels": false, "title": null,
                "tickSize": {"condition": {"test": "datum.value % 6 === 0", "value": 10}, "value": 5}}},
            "y": {"field": "a", "type": "quantitative",
              "axis": {"orient": "right", "values": [-90,-80,-70,-60,-50,-40,-30,-20,-10,0,10,20,30,40,50,60,70,80,90], "labels": false, "title": null,
                "tickSize": {"condition": {"test": "datum.value % 30 === 0", "value": 10}, "value": 5}}}
          }
        },
        {
          "data": {"name": "jup"},
          "mark": {"type": "line", "color": "#000000", "strokeWidth": 3.5},
          "encoding": {
            "x": {"field": "t", "type": "quantitative", "axis": null},
            "y": {"field": "a", "type": "quantitative", "axis": null}
          }
        },
        {
          "data": {"name": "lab"},
          "mark": {"type": "text", "align": "left", "baseline": "middle", "dx": 3, "fontSize": 13, "color": "black", "font": "DejaVu Sans"},
          "encoding": {
            "x": {"field": "t", "type": "quantitative", "axis": null},
            "y": {"field": "a", "type": "quantitative", "axis": null},
            "text": {"field": "p"}
          }
        }
      ]
    },
    {
      "width": 450,
      "height": 210,
      "resolve": {"axis": {"x": "independent", "y": "independent"}},
      "layer": [
        {
          "data": {"name": "inten"},
          "mark": {"type": "line", "strokeWidth": 2.2, "clip": true},
          "encoding": {
            "x": {"field": "t", "type": "quantitative", "scale": {"domain": [0, 24], "nice": false, "zero": false},
              "axis": {"values": [0,1,2,3,4,5,6,7,8,9,10,11,12,13,14,15,16,17,18,19,20,21,22,23,24], "title": "time - hours on 2003-04-04",
                "labelExpr": "datum.value % 6 === 0 ? datum.label : ''", "labelFlush": false, "labelPadding": 7, "titlePadding": 8,
                "tickSize": {"condition": {"test": "datum.value % 6 === 0", "value": 10}, "value": 5}}},
            "y": {"field": "v", "type": "quantitative", "scale": {"type": "log", "domain": [0.001, 1], "nice": false},
              "axis": {"values": [0.001,0.002154,0.004642,0.01,0.02154,0.04642,0.1,0.2154,0.4642,1], "title": "Intensity (microvolt/sqrt(Hz))",
                "labelExpr": "(datum.value == 0.001 || datum.value == 0.01 || datum.value == 0.1 || datum.value == 1) ? format(datum.value, '.3f') : ''",
                "labelFlush": true, "labelPadding": 6, "titlePadding": 12,
                "tickSize": {"condition": {"test": "datum.value == 0.001 || datum.value == 0.01 || datum.value == 0.1 || datum.value == 1", "value": 10}, "value": 5}}},
            "color": {"field": "f", "type": "nominal",
              "scale": {"domain": ["52","100","120","148","272","540","940"], "range": ["#ff0000","#ffa500","#d0c000","#00ff00","#00aaff","#0000ff","#a020f0"]},
              "legend": {"orient": "none", "legendX": 0, "legendY": 274, "direction": "horizontal", "title": "Frequencies (kHz):", "titleOrient": "left",
                "titleFontSize": 13.5, "titleFontWeight": "normal", "titleColor": "black", "titleFont": "DejaVu Sans", "titlePadding": -9,
                "labelFontSize": 13, "labelFont": "DejaVu Sans", "labelOffset": 0, "symbolSize": 0, "symbolStrokeWidth": 0, "symbolOpacity": 0,
                "columnPadding": 11, "gridAlign": "all",
                "encode": {"labels": {"update": {"fill": {"signal": "datum.value == '52' ? '#ff0000' : datum.value == '100' ? '#ffa500' : datum.value == '120' ? '#d0c000' : datum.value == '148' ? '#00ff00' : datum.value == '272' ? '#00aaff' : datum.value == '540' ? '#0000ff' : '#a020f0'"}}}}}},
            "detail": {"field": "s", "type": "nominal"}
          }
        },
        {
          "data": {"name": "inten"},
          "mark": {"type": "point", "opacity": 0},
          "encoding": {
            "x": {"field": "t", "type": "quantitative",
              "axis": {"orient": "top", "values": [0,1,2,3,4,5,6,7,8,9,10,11,12,13,14,15,16,17,18,19,20,21,22,23,24], "labels": false, "title": null,
                "tickSize": {"condition": {"test": "datum.value % 6 === 0", "value": 10}, "value": 5}}},
            "y": {"field": "v", "type": "quantitative",
              "axis": {"orient": "right", "values": [0.001,0.002154,0.004642,0.01,0.02154,0.04642,0.1,0.2154,0.4642,1], "labels": false, "title": null,
                "tickSize": {"condition": {"test": "datum.value == 0.001 || datum.value == 0.01 || datum.value == 0.1 || datum.value == 1", "value": 10}, "value": 5}}}
          }
        }
      ]
    }
  ]
}
